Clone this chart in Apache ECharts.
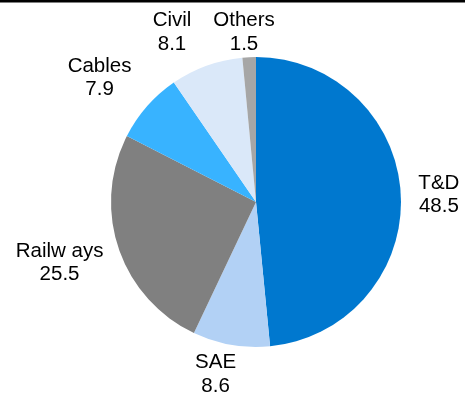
<!DOCTYPE html>
<html>
<head>
<meta charset="utf-8">
<script src="https://cdn.jsdelivr.net/npm/echarts@6/dist/echarts.min.js"></script>
<style>
html,body{margin:0;padding:0;background:#fff;}
#chart{width:465px;height:398px;}
</style>
</head>
<body>
<div id="chart"></div>
<script>
var categories = ['T&D', 'SAE', 'Railw ays', 'Cables', 'Civil', 'Others'];
var values = [48.5, 8.6, 25.5, 7.9, 8.1, 1.5];
var colors = ['#0078CF', '#B2D1F5', '#808080', '#38B3FF', '#DAE8F9', '#A6A6A6'];

// label placement (radial distance in px and angular nudge in degrees per slice)
var labelDist = [183, 177, 205.7, 199.8, 189.2, 170];
var labelNudge = [0.6, 3.3, 1.55, -2.8, -6.4, -1.35];

var CX = 256, CY = 202, R = 145;

var total = values.reduce(function (a, b) { return a + b; }, 0);
var midAngles = [];
var acc = 0;
values.forEach(function (v) {
  midAngles.push((acc + v / 2) / total * 360);
  acc += v;
});

var chart = echarts.init(document.getElementById('chart'), null, {renderer: 'canvas'});
chart.setOption({
  animation: false,
  backgroundColor: '#ffffff',
  graphic: [{
    type: 'rect',
    shape: {x: 0, y: 0, width: 465, height: 2.5},
    style: {fill: '#000000'}
  }],
  series: [{
    type: 'pie',
    center: [CX, CY],
    radius: [0, R],
    startAngle: 90,
    clockwise: true,
    avoidLabelOverlap: false,
    itemStyle: {borderWidth: 0},
    label: {
      show: true,
      position: 'outside',
      formatter: function (p) { return p.name + '\n' + p.value.toFixed(1); },
      fontFamily: 'Liberation Sans, Arial, sans-serif',
      fontSize: 20.5,
      lineHeight: 23.5,
      color: '#000000',
      align: 'center'
    },
    labelLine: {show: false},
    labelLayout: function (params) {
      var i = params.dataIndex;
      var th = (midAngles[i] + labelNudge[i]) * Math.PI / 180;
      return {
        x: CX + Math.sin(th) * labelDist[i],
        y: CY - Math.cos(th) * labelDist[i],
        align: 'center',
        verticalAlign: 'middle'
      };
    },
    data: categories.map(function (c, i) {
      return {name: c, value: values[i], itemStyle: {color: colors[i]}};
    })
  }]
});
</script>
</body>
</html>
